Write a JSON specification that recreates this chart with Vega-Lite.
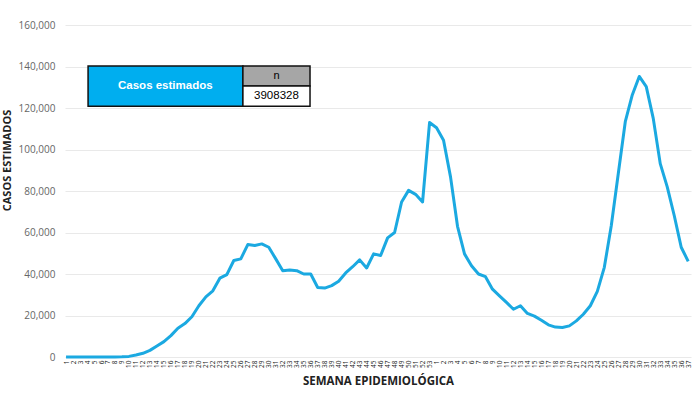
{
  "$schema": "https://vega.github.io/schema/vega-lite/v6.json",
  "width": 626,
  "height": 332,
  "autosize": "none",
  "padding": {"left": 65, "top": 25, "right": 9, "bottom": 49},
  "background": "white",
  "config": {"view": {"stroke": null}, "font": "Open Sans"},
  "resolve": {"scale": {"x": "independent"}},
  "layer": [
    {
      "data": {"values": [
        {"orden": 0, "anio": 2020, "semana": 1, "casos": 0},
        {"orden": 1, "anio": 2020, "semana": 2, "casos": 0},
        {"orden": 2, "anio": 2020, "semana": 3, "casos": 0},
        {"orden": 3, "anio": 2020, "semana": 4, "casos": 0},
        {"orden": 4, "anio": 2020, "semana": 5, "casos": 0},
        {"orden": 5, "anio": 2020, "semana": 6, "casos": 0},
        {"orden": 6, "anio": 2020, "semana": 7, "casos": 0},
        {"orden": 7, "anio": 2020, "semana": 8, "casos": 0},
        {"orden": 8, "anio": 2020, "semana": 9, "casos": 100},
        {"orden": 9, "anio": 2020, "semana": 10, "casos": 300},
        {"orden": 10, "anio": 2020, "semana": 11, "casos": 1000},
        {"orden": 11, "anio": 2020, "semana": 12, "casos": 1800},
        {"orden": 12, "anio": 2020, "semana": 13, "casos": 3200},
        {"orden": 13, "anio": 2020, "semana": 14, "casos": 5300},
        {"orden": 14, "anio": 2020, "semana": 15, "casos": 7400},
        {"orden": 15, "anio": 2020, "semana": 16, "casos": 10300},
        {"orden": 16, "anio": 2020, "semana": 17, "casos": 13900},
        {"orden": 17, "anio": 2020, "semana": 18, "casos": 16100},
        {"orden": 18, "anio": 2020, "semana": 19, "casos": 19400},
        {"orden": 19, "anio": 2020, "semana": 20, "casos": 24700},
        {"orden": 20, "anio": 2020, "semana": 21, "casos": 29000},
        {"orden": 21, "anio": 2020, "semana": 22, "casos": 31900},
        {"orden": 22, "anio": 2020, "semana": 23, "casos": 38000},
        {"orden": 23, "anio": 2020, "semana": 24, "casos": 39700},
        {"orden": 24, "anio": 2020, "semana": 25, "casos": 46500},
        {"orden": 25, "anio": 2020, "semana": 26, "casos": 47300},
        {"orden": 26, "anio": 2020, "semana": 27, "casos": 54200},
        {"orden": 27, "anio": 2020, "semana": 28, "casos": 53700},
        {"orden": 28, "anio": 2020, "semana": 29, "casos": 54500},
        {"orden": 29, "anio": 2020, "semana": 30, "casos": 52900},
        {"orden": 30, "anio": 2020, "semana": 31, "casos": 47300},
        {"orden": 31, "anio": 2020, "semana": 32, "casos": 41600},
        {"orden": 32, "anio": 2020, "semana": 33, "casos": 41900},
        {"orden": 33, "anio": 2020, "semana": 34, "casos": 41600},
        {"orden": 34, "anio": 2020, "semana": 35, "casos": 40000},
        {"orden": 35, "anio": 2020, "semana": 36, "casos": 40000},
        {"orden": 36, "anio": 2020, "semana": 37, "casos": 33500},
        {"orden": 37, "anio": 2020, "semana": 38, "casos": 33200},
        {"orden": 38, "anio": 2020, "semana": 39, "casos": 34400},
        {"orden": 39, "anio": 2020, "semana": 40, "casos": 36500},
        {"orden": 40, "anio": 2020, "semana": 41, "casos": 40500},
        {"orden": 41, "anio": 2020, "semana": 42, "casos": 43500},
        {"orden": 42, "anio": 2020, "semana": 43, "casos": 46800},
        {"orden": 43, "anio": 2020, "semana": 44, "casos": 42900},
        {"orden": 44, "anio": 2020, "semana": 45, "casos": 49700},
        {"orden": 45, "anio": 2020, "semana": 46, "casos": 48900},
        {"orden": 46, "anio": 2020, "semana": 47, "casos": 57400},
        {"orden": 47, "anio": 2020, "semana": 48, "casos": 60000},
        {"orden": 48, "anio": 2020, "semana": 49, "casos": 74700},
        {"orden": 49, "anio": 2020, "semana": 50, "casos": 80300},
        {"orden": 50, "anio": 2020, "semana": 51, "casos": 78400},
        {"orden": 51, "anio": 2020, "semana": 52, "casos": 74700},
        {"orden": 52, "anio": 2020, "semana": 53, "casos": 113000},
        {"orden": 53, "anio": 2021, "semana": 1, "casos": 110500},
        {"orden": 54, "anio": 2021, "semana": 2, "casos": 104500},
        {"orden": 55, "anio": 2021, "semana": 3, "casos": 86800},
        {"orden": 56, "anio": 2021, "semana": 4, "casos": 63000},
        {"orden": 57, "anio": 2021, "semana": 5, "casos": 49700},
        {"orden": 58, "anio": 2021, "semana": 6, "casos": 44000},
        {"orden": 59, "anio": 2021, "semana": 7, "casos": 40000},
        {"orden": 60, "anio": 2021, "semana": 8, "casos": 38700},
        {"orden": 61, "anio": 2021, "semana": 9, "casos": 32700},
        {"orden": 62, "anio": 2021, "semana": 10, "casos": 29500},
        {"orden": 63, "anio": 2021, "semana": 11, "casos": 26300},
        {"orden": 64, "anio": 2021, "semana": 12, "casos": 23000},
        {"orden": 65, "anio": 2021, "semana": 13, "casos": 24700},
        {"orden": 66, "anio": 2021, "semana": 14, "casos": 21000},
        {"orden": 67, "anio": 2021, "semana": 15, "casos": 19700},
        {"orden": 68, "anio": 2021, "semana": 16, "casos": 17700},
        {"orden": 69, "anio": 2021, "semana": 17, "casos": 15500},
        {"orden": 70, "anio": 2021, "semana": 18, "casos": 14400},
        {"orden": 71, "anio": 2021, "semana": 19, "casos": 14200},
        {"orden": 72, "anio": 2021, "semana": 20, "casos": 15000},
        {"orden": 73, "anio": 2021, "semana": 21, "casos": 17400},
        {"orden": 74, "anio": 2021, "semana": 22, "casos": 20600},
        {"orden": 75, "anio": 2021, "semana": 23, "casos": 24700},
        {"orden": 76, "anio": 2021, "semana": 24, "casos": 31600},
        {"orden": 77, "anio": 2021, "semana": 25, "casos": 43200},
        {"orden": 78, "anio": 2021, "semana": 26, "casos": 63400},
        {"orden": 79, "anio": 2021, "semana": 27, "casos": 88400},
        {"orden": 80, "anio": 2021, "semana": 28, "casos": 113400},
        {"orden": 81, "anio": 2021, "semana": 29, "casos": 126300},
        {"orden": 82, "anio": 2021, "semana": 30, "casos": 135200},
        {"orden": 83, "anio": 2021, "semana": 31, "casos": 130300},
        {"orden": 84, "anio": 2021, "semana": 32, "casos": 115000},
        {"orden": 85, "anio": 2021, "semana": 33, "casos": 93200},
        {"orden": 86, "anio": 2021, "semana": 34, "casos": 82000},
        {"orden": 87, "anio": 2021, "semana": 35, "casos": 68200},
        {"orden": 88, "anio": 2021, "semana": 36, "casos": 52900},
        {"orden": 89, "anio": 2021, "semana": 37, "casos": 46100}
      ]},
      "mark": {"type": "line", "color": "#1BA9E1", "strokeWidth": 3, "strokeJoin": "round"},
      "encoding": {
        "x": {
          "field": "orden", "type": "quantitative",
          "scale": {"domain": [-0.15, 89.4], "nice": false, "zero": false},
          "axis": {
            "title": "SEMANA EPIDEMIOLÓGICA",
            "titleFontSize": 11.5, "titleFontWeight": "bold", "titleColor": "#222",
            "titlePadding": 8,
            "values": [0,1,2,3,4,5,6,7,8,9,10,11,12,13,14,15,16,17,18,19,20,21,22,23,24,25,26,27,28,29,30,31,32,33,34,35,36,37,38,39,40,41,42,43,44,45,46,47,48,49,50,51,52,53,54,55,56,57,58,59,60,61,62,63,64,65,66,67,68,69,70,71,72,73,74,75,76,77,78,79,80,81,82,83,84,85,86,87,88,89],
            "labelExpr": "datum.value < 53 ? datum.value + 1 : datum.value - 52",
            "labelAngle": 270, "labelFontSize": 6.5, "labelColor": "#222",
            "labelOverlap": false, "labelFlush": false, "labelBound": false, "labelPadding": 3,
            "grid": false, "ticks": false, "domain": false
          }
        },
        "y": {
          "field": "casos", "type": "quantitative",
          "scale": {"domain": [0, 160000], "nice": false},
          "axis": {
            "title": "CASOS ESTIMADOS",
            "titleFontSize": 11, "titleFontWeight": "bold", "titleColor": "#222",
            "titleY": 135, "titleX": -53,
            "values": [0, 20000, 40000, 60000, 80000, 100000, 120000, 140000, 160000],
            "format": ",d", "labelFontSize": 10, "labelColor": "#666", "labelPadding": 10,
            "grid": true, "gridColor": "#e9e9e9", "gridWidth": 1,
            "ticks": false, "domain": false
          }
        }
      }
    },
    {
      "data": {"values": [{}]},
      "mark": {"type": "rect", "fill": "#00AEEF", "stroke": "#111", "strokeWidth": 1.5},
      "encoding": {
        "x": {"datum": 3.15, "type": "quantitative", "scale": {"domain": [-0.15, 89.4], "nice": false, "zero": false}, "axis": null},
        "x2": {"datum": 25.3},
        "y": {"datum": 140300, "type": "quantitative"},
        "y2": {"datum": 120900}
      }
    },
    {
      "data": {"values": [{}]},
      "mark": {"type": "rect", "fill": "#A6A6A6", "stroke": "#111", "strokeWidth": 1.5},
      "encoding": {
        "x": {"datum": 25.3, "type": "quantitative", "scale": {"domain": [-0.15, 89.4], "nice": false, "zero": false}, "axis": null},
        "x2": {"datum": 34.9},
        "y": {"datum": 140300, "type": "quantitative"},
        "y2": {"datum": 130600}
      }
    },
    {
      "data": {"values": [{}]},
      "mark": {"type": "rect", "fill": "#FFFFFF", "stroke": "#111", "strokeWidth": 1.5},
      "encoding": {
        "x": {"datum": 25.3, "type": "quantitative", "scale": {"domain": [-0.15, 89.4], "nice": false, "zero": false}, "axis": null},
        "x2": {"datum": 34.9},
        "y": {"datum": 130600, "type": "quantitative"},
        "y2": {"datum": 120900}
      }
    },
    {
      "data": {"values": [{}]},
      "mark": {"type": "text", "color": "white", "fontWeight": "bold", "fontSize": 11.5, "font": "Liberation Sans", "align": "center", "baseline": "middle"},
      "encoding": {
        "x": {"datum": 14.2, "type": "quantitative", "scale": {"domain": [-0.15, 89.4], "nice": false, "zero": false}, "axis": null},
        "y": {"datum": 130600, "type": "quantitative"},
        "text": {"value": "Casos estimados"}
      }
    },
    {
      "data": {"values": [{}]},
      "mark": {"type": "text", "color": "black", "fontSize": 11, "font": "Liberation Sans", "align": "center", "baseline": "middle"},
      "encoding": {
        "x": {"datum": 30.1, "type": "quantitative", "scale": {"domain": [-0.15, 89.4], "nice": false, "zero": false}, "axis": null},
        "y": {"datum": 135450, "type": "quantitative"},
        "text": {"value": "n"}
      }
    },
    {
      "data": {"values": [{}]},
      "mark": {"type": "text", "color": "black", "fontSize": 11.5, "font": "Liberation Sans", "align": "center", "baseline": "middle"},
      "encoding": {
        "x": {"datum": 30.1, "type": "quantitative", "scale": {"domain": [-0.15, 89.4], "nice": false, "zero": false}, "axis": null},
        "y": {"datum": 125750, "type": "quantitative"},
        "text": {"value": "3908328"}
      }
    }
  ]
}
